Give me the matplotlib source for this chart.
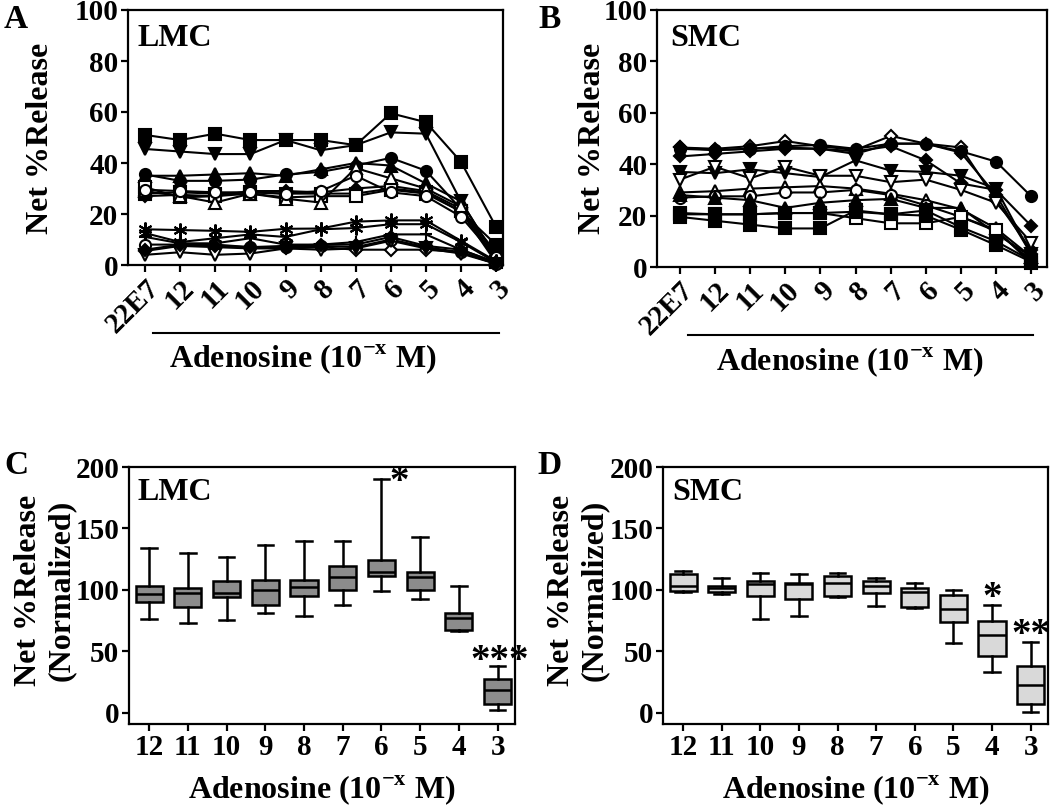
import numpy as np
import matplotlib.pyplot as plt
import matplotlib.transforms as mtransforms

plt.rcParams['font.family'] = ['Liberation Serif', 'DejaVu Serif']
plt.rcParams['font.weight'] = 'bold'
plt.rcParams['axes.linewidth'] = 1.6

# ---------------------------------------
# Data
# ---------------------------------------
doses_ab = ['22E7', '12', '11', '10', '9', '8', '7', '6', '5', '4', '3']
doses_cd = ['12', '11', '10', '9', '8', '7', '6', '5', '4', '3']

# Panel A: LMC, net % release per donor
lmc_sq_f = [51, 49, 51.5, 49, 49, 49, 47, 59.5, 56, 40.5, 15]
lmc_tv_f = [45.5, 44.5, 43.5, 43.5, 49, 45, 47, 52, 51.5, 25, 3]
lmc_ci_f = [35.5, 33, 33, 33.5, 35.5, 36.5, 39, 42, 37, 22, 5]
lmc_tu_f = [35, 35, 35.5, 36, 35, 37.5, 40, 39, 32, 25, 3]
lmc_di_f = [27, 27.5, 27, 29, 29, 28.5, 30, 31, 29, 22, 2]
lmc_sq_f2 = [28, 28.5, 28, 28.5, 28, 28, 28, 30, 28.5, 21, 8]
lmc_sq_o = [30.5, 26.5, 27, 28, 26.5, 27, 27, 29.5, 28, 21, 1]
lmc_tu_o = [29, 27, 24.5, 28, 26, 24.5, 38, 34, 30, 23, 2]
lmc_ci_o = [29.5, 29, 28.5, 28.5, 28, 29, 35, 28.5, 27, 19, 3]
lmc_as1 = [14, 13.7, 13.4, 13, 14.2, 14.3, 17, 17.5, 17.5, 9.5, 1.5]
lmc_as2 = [12.5, 9, 10.5, 12, 11, 14, 14.5, 16, 16, 9, 1]
lmc_pl = [11, 8.5, 8.5, 10.5, 8, 8, 9, 12, 12, 6, 1]
lmc_ci_o2 = [8, 8, 8, 7, 7, 7.5, 7, 10, 7, 5, 0.5]
lmc_di_o = [5.5, 7.5, 7, 6.5, 6.5, 7, 6, 6, 6, 5, 0.5]
lmc_tv_o = [4, 5, 4, 4.5, 6.5, 6, 6.5, 9.5, 6.5, 4.5, 0.5]
lmc_di_f2 = [6, 8, 7.5, 7, 7.5, 8, 8, 11, 7.5, 6, 1]

# Panel B: SMC, net % release per donor
smc_di_o = [46.5, 46, 47, 49, 47, 45.5, 51, 48, 46.5, 26, 6.5]
smc_ci_f = [46, 45.5, 46, 47, 47.5, 46, 48, 48, 45, 41, 27.5]
smc_di_f = [43, 44, 45, 46, 46, 45, 47, 41.5, 32.5, 30, 16]
smc_di_f2 = [46.5, 45.5, 46, 46.5, 46, 44, 48, 48, 44.5, 28, 5]
smc_tv_f = [37, 36.5, 38, 36.5, 35, 41.5, 37.5, 37, 35.5, 30.5, 5]
smc_tv_o = [34, 39, 34.5, 39, 35.5, 35.5, 33, 34, 30, 25, 9.5]
smc_tu_o = [29, 29.5, 30.5, 31, 31.5, 30.5, 28.5, 26, 22.5, 15, 4]
smc_ci_o = [27, 27.5, 27.5, 29, 29, 30, 28, 24, 19.5, 14, 2.5]
smc_tu_f = [28, 27, 26, 23, 25, 26, 26.5, 23, 23, 13, 4]
smc_sq_o = [21, 20.5, 20.5, 21, 21, 19, 17, 17, 19.5, 14.5, 1.5]
smc_sq_f = [19.5, 18, 16.5, 15, 15, 22, 20.5, 20, 14.5, 8.5, 2]
smc_sq_f2 = [20.5, 20.5, 20.5, 21, 21, 21.5, 20.5, 22, 15.5, 10, 2.5]

# Panel C: LMC normalized box summaries
lmc_hi = [134, 130, 126.5, 136.5, 140, 140, 190, 143, 103, 38]
lmc_q3 = [103, 102, 107, 108.5, 108.5, 119.5, 124, 114.5, 81.5, 28]
lmc_med = [96.5, 97.5, 97.5, 100, 102.5, 110.5, 114.5, 110.5, 77, 18.5]
lmc_q1 = [90, 86, 94, 88, 95, 100, 111, 100, 67.5, 7]
lmc_lo = [76, 73.5, 75.5, 81.5, 79, 88, 99, 92.5, 66.5, 2]

# Panel D: SMC normalized box summaries
smc_hi = [115.5, 109.5, 114, 113, 114, 109.5, 105.5, 100, 88, 58]
smc_q3 = [113, 103.5, 107.5, 106, 111, 107, 102, 96, 75, 38]
smc_med = [103.5, 101.5, 105, 104.5, 106, 103.5, 98, 84.5, 63, 23]
smc_q1 = [99, 98.5, 95, 93, 95.5, 97.5, 86.5, 74, 46.5, 7.5]
smc_lo = [98.5, 96.5, 76.5, 79, 94.5, 87, 85, 56.5, 33, 0.5]

lmc_series = [
    (lmc_sq_f, 's', True), (lmc_tv_f, 'v', True), (lmc_ci_f, 'o', True),
    (lmc_tu_f, '^', True), (lmc_di_f, 'D', True), (lmc_sq_f2, 's', True),
    (lmc_sq_o, 's', False), (lmc_tu_o, '^', False), (lmc_ci_o, 'o', False),
    (lmc_as1, (6, 2, 0), True), (lmc_as2, (6, 2, 0), True), (lmc_pl, '+', True),
    (lmc_ci_o2, 'o', False), (lmc_di_o, 'D', False), (lmc_tv_o, 'v', False),
    (lmc_di_f2, 'D', True),
]
smc_series = [
    (smc_di_o, 'D', False), (smc_ci_f, 'o', True), (smc_di_f, 'D', True),
    (smc_di_f2, 'D', True), (smc_tv_f, 'v', True), (smc_tv_o, 'v', False),
    (smc_tu_o, '^', False), (smc_ci_o, 'o', False), (smc_tu_f, '^', True),
    (smc_sq_o, 's', False), (smc_sq_f, 's', True), (smc_sq_f2, 's', True),
]

TICK_FS = 21
LABEL_FS = 23
XLAB = r'Adenosine (10$^{\mathregular{-x}}$ M)'

fig = plt.figure(figsize=(10.5, 8.09), dpi=100)
H = 809.0
W = 1050.0


def px_axes(left, top, right, bottom):
    return fig.add_axes([left / W, 1 - bottom / H, (right - left) / W, (bottom - top) / H])


def style(ax):
    for s in ax.spines.values():
        s.set_linewidth(1.6)
    ax.tick_params(direction='out', length=5, width=1.6, labelsize=TICK_FS, pad=2)


def line_panel(ax, series, xlim, tag, tag_x, lab_x, bar_x):
    x = np.arange(len(doses_ab))
    for vals, mk, filled in series:
        ms = 6.5 if mk == 'D' else (9 if mk in ('^', 'v', '+') else 8)
        if isinstance(mk, tuple):
            ms = 10
        ax.plot(x, vals, color='k', lw=1.5, marker=mk, ms=ms,
                mfc='k' if filled else 'white', mec='k', mew=1.5, clip_on=False, zorder=3)
    ax.set_xlim(*xlim)
    ax.set_ylim(0, 100)
    ax.set_yticks([0, 20, 40, 60, 80, 100])
    ax.set_xticks(x)
    ax.set_xticklabels(doses_ab, rotation=45, ha='right', va='top', rotation_mode='anchor')
    style(ax)
    ax.text(tag_x, 0.89, tag, transform=ax.transAxes, fontsize=23, va='center', ha='left')
    trans = mtransforms.blended_transform_factory(ax.transData, ax.transAxes)
    ax.plot(bar_x, [-0.266, -0.266], transform=trans, color='k', lw=1.5, clip_on=False)
    ax.text(lab_x, -0.37, XLAB, transform=ax.transAxes, fontsize=LABEL_FS,
            ha='center', va='center')


def box_panel(ax, hi, q3, med, q1, lo, color, tag, tag_x):
    stats = [dict(med=m, q1=a, q3=b, whislo=l, whishi=h, fliers=[])
             for h, b, m, a, l in zip(hi, q3, med, q1, lo)]
    ax.bxp(stats, positions=range(len(doses_cd)), widths=0.7, capwidths=0.4,
           patch_artist=True, showfliers=False,
           boxprops=dict(facecolor=color, edgecolor='k', linewidth=1.8),
           medianprops=dict(color='k', linewidth=1.8),
           whiskerprops=dict(color='k', linewidth=1.8),
           capprops=dict(color='k', linewidth=1.8))
    ax.set_xlim(-0.52, 9.45)
    ax.set_ylim(-9, 200)
    ax.set_yticks([0, 50, 100, 150, 200])
    ax.set_xticks(range(len(doses_cd)))
    ax.set_xticklabels(doses_cd)
    style(ax)
    ax.text(tag_x, 0.9, tag, transform=ax.transAxes, fontsize=23, va='center', ha='left')
    ax.text(0.5, -0.257, XLAB, transform=ax.transAxes, fontsize=LABEL_FS,
            ha='center', va='center')


axA = px_axes(128, 10, 503, 265)
line_panel(axA, lmc_series, (-0.49, 10.2), 'LMC', 0.024, 0.467, [0.23, 10.1])

axB = px_axes(657, 10, 1047, 267)
line_panel(axB, smc_series, (-0.65, 10.45), 'SMC', 0.033, 0.495, [0.23, 10.05])

axC = px_axes(129, 467, 515, 724)
box_panel(axC, lmc_hi, lmc_q3, lmc_med, lmc_q1, lmc_lo, '#8c8c8c', 'LMC', 0.021)
axC.text(6.47, 187, '*', fontsize=28, ha='center', va='center')
axC.text(9.05, 42, '***', fontsize=28, ha='center', va='center', clip_on=False)

axD = px_axes(663, 467, 1048, 724)
box_panel(axD, smc_hi, smc_q3, smc_med, smc_q1, smc_lo, '#d9d9d9', 'SMC', 0.023)
axD.text(8.0, 93, '*', fontsize=28, ha='center', va='center')
axD.text(9.0, 63, '**', fontsize=28, ha='center', va='center', clip_on=False)

# y labels
fig.text(40 / W, 1 - 138 / H, 'Net %Release', rotation=90, fontsize=LABEL_FS,
         ha='center', va='center')
fig.text(593 / W, 1 - 138 / H, 'Net %Release', rotation=90, fontsize=LABEL_FS,
         ha='center', va='center')
fig.text(45 / W, 1 - 590 / H, 'Net %Release\n(Normalized)', rotation=90,
         fontsize=LABEL_FS, ha='center', va='center', multialignment='center')
fig.text(578 / W, 1 - 590 / H, 'Net %Release\n(Normalized)', rotation=90,
         fontsize=LABEL_FS, ha='center', va='center', multialignment='center')

# panel letters
for letter, xp, yp in [('A', 16, 20), ('B', 550, 20), ('C', 16, 465), ('D', 550, 465)]:
    fig.text(xp / W, 1 - yp / H, letter, fontsize=24, ha='center', va='center')

fig.savefig('out.png', dpi=100)
